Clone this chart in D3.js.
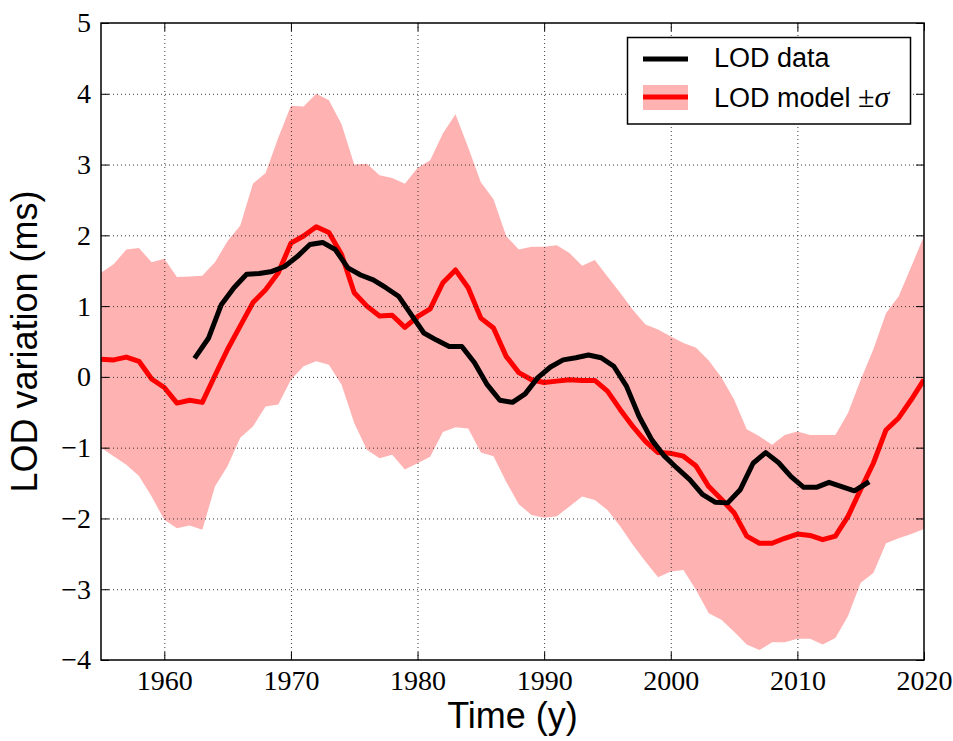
<!DOCTYPE html>
<html>
<head>
<meta charset="utf-8">
<script src="https://cdn.jsdelivr.net/npm/d3@7"></script>
<style>
  html, body { margin: 0; padding: 0; background: #fff; }
  svg { display: block; }
</style>
</head>
<body>
<svg id="chart" width="953" height="741"></svg>
<script>
// ---------- data ----------
const modelYears = [1955,1956,1957,1958,1959,1960,1961,1962,1963,1964,1965,1966,1967,1968,1969,
  1970,1971,1972,1973,1974,1975,1976,1977,1978,1979,1980,1981,1982,1983,1984,1985,1986,1987,1988,1989,
  1990,1991,1992,1993,1994,1995,1996,1997,1998,1999,2000,2001,2002,2003,2004,2005,2006,2007,2008,2009,
  2010,2011,2012,2013,2014,2015,2016,2017,2018,2019,2020];
const modelValues = [0.25,0.24,0.28,0.22,-0.03,-0.15,-0.37,-0.33,-0.36,0.02,0.39,0.72,1.05,1.23,1.47,
  1.89,1.99,2.12,2.04,1.73,1.19,1.00,0.86,0.87,0.70,0.85,0.96,1.33,1.51,1.26,0.83,0.69,0.29,0.06,-0.04,
  -0.08,-0.06,-0.04,-0.05,-0.05,-0.20,-0.46,-0.70,-0.91,-1.07,-1.08,-1.12,-1.26,-1.55,-1.73,-1.92,-2.25,-2.35,-2.35,-2.28,
  -2.22,-2.24,-2.30,-2.25,-1.97,-1.59,-1.22,-0.75,-0.58,-0.32,-0.04];
const modelUpper = [1.47,1.59,1.80,1.82,1.62,1.67,1.41,1.42,1.43,1.62,1.92,2.14,2.73,2.88,3.38,
  3.83,3.82,4.00,3.91,3.57,3.00,3.01,2.85,2.81,2.73,2.95,3.06,3.44,3.71,3.24,2.75,2.51,1.99,1.80,1.84,
  1.84,1.86,1.75,1.57,1.65,1.42,1.19,0.95,0.74,0.67,0.57,0.48,0.41,0.23,-0.01,-0.32,-0.74,-0.84,-0.96,-0.82,
  -0.77,-0.82,-0.82,-0.82,-0.51,-0.04,0.39,0.90,1.14,1.56,1.99];
const modelLower = [-1.00,-1.12,-1.24,-1.40,-1.69,-2.02,-2.14,-2.10,-2.16,-1.55,-1.26,-0.86,-0.70,-0.42,-0.39,
  -0.04,0.15,0.22,0.17,-0.11,-0.65,-1.03,-1.15,-1.10,-1.31,-1.22,-1.13,-0.78,-0.71,-0.73,-1.07,-1.12,-1.48,-1.80,-1.95,
  -1.99,-1.97,-1.83,-1.69,-1.74,-1.88,-2.11,-2.37,-2.61,-2.83,-2.75,-2.73,-3.01,-3.34,-3.43,-3.60,-3.78,-3.86,-3.75,-3.75,
  -3.70,-3.70,-3.78,-3.69,-3.38,-2.91,-2.77,-2.35,-2.28,-2.22,-2.15];

const dataYears = [1962.5,1963.5,1964.5,1965.5,1966.5,1967.5,1968.5,1969.5,1970.5,1971.5,1972.5,1973.5,
  1974.5,1975.5,1976.5,1977.5,1978.5,1979.5,1980.5,1981.5,1982.5,1983.5,1984.5,1985.5,1986.5,1987.5,
  1988.5,1989.5,1990.5,1991.5,1992.5,1993.5,1994.5,1995.5,1996.5,1997.5,1998.5,1999.5,2000.5,2001.5,
  2002.5,2003.5,2004.5,2005.5,2006.5,2007.5,2008.5,2009.5,2010.5,2011.5,2012.5,2013.5,2014.5,2015.5];
const dataValues = [0.29,0.55,1.02,1.26,1.45,1.46,1.49,1.56,1.70,1.87,1.90,1.80,
  1.54,1.44,1.37,1.26,1.14,0.88,0.62,0.52,0.43,0.43,0.20,-0.11,-0.33,-0.36,
  -0.24,-0.01,0.14,0.24,0.27,0.31,0.27,0.15,-0.13,-0.56,-0.89,-1.12,-1.29,-1.45,
  -1.66,-1.77,-1.78,-1.59,-1.22,-1.07,-1.21,-1.41,-1.56,-1.56,-1.49,-1.55,-1.61,-1.50];

const xTicks = [1960,1970,1980,1990,2000,2010,2020];
const yTicks = [-4,-3,-2,-1,0,1,2,3,4,5];
const xDomain = [1955, 2020];
const yDomain = [-4, 5];
const legendLabels = ["LOD data", "LOD model "];
const xLabel = "Time (y)";
const yLabel = "LOD variation (ms)";

// ---------- layout ----------
const svg = d3.select("#chart");
const L = 101, R = 924, T = 23, B = 660;
const x = d3.scaleLinear().domain(xDomain).range([L, R]);
const y = d3.scaleLinear().domain(yDomain).range([B, T]);

const band = "rgb(255,178,178)";
const red = "#ff0000";

svg.append("defs").append("clipPath").attr("id", "clip")
  .append("rect").attr("x", L).attr("y", T).attr("width", R - L).attr("height", B - T);

const plot = svg.append("g").attr("clip-path", "url(#clip)");

// band
const modelRows = modelYears.map((yr, i) => ({yr, v: modelValues[i], lo: modelLower[i], hi: modelUpper[i]}));
plot.append("path")
  .datum(modelRows)
  .attr("fill", band)
  .attr("d", d3.area().x(d => x(d.yr)).y0(d => y(d.lo)).y1(d => y(d.hi)));

// grid
const grid = svg.append("g").attr("stroke", "#222").attr("stroke-width", 0.9).attr("stroke-dasharray", "1,3");
grid.selectAll("line.gx").data(xTicks.filter(t => t > xDomain[0] && t < xDomain[1])).join("line")
  .attr("x1", d => x(d) + 0.5).attr("x2", d => x(d) + 0.5).attr("y1", T).attr("y2", B);
grid.selectAll("line.gy").data(yTicks.filter(t => t > yDomain[0] && t < yDomain[1])).join("line")
  .attr("y1", d => y(d) + 0.5).attr("y2", d => y(d) + 0.5).attr("x1", L).attr("x2", R);

// model line
plot.append("path")
  .datum(modelRows)
  .attr("fill", "none").attr("stroke", red).attr("stroke-width", 5)
  .attr("stroke-linejoin", "round")
  .attr("d", d3.line().x(d => x(d.yr)).y(d => y(d.v)));

// data line
const dataRows = dataYears.map((yr, i) => ({yr, v: dataValues[i]}));
plot.append("path")
  .datum(dataRows)
  .attr("fill", "none").attr("stroke", "#000").attr("stroke-width", 5)
  .attr("stroke-linejoin", "round").attr("stroke-linecap", "square")
  .attr("d", d3.line().x(d => x(d.yr)).y(d => y(d.v)));

// axes
const tickFont = "'Liberation Serif', 'DejaVu Serif', serif";
function styleAxis(g) {
  g.select(".domain").remove();
  g.selectAll(".tick line").attr("stroke", "#000").attr("stroke-width", 1);
  g.selectAll(".tick text").attr("font-family", tickFont).attr("font-size", 28).attr("fill", "#000");
}
svg.append("g").attr("transform", `translate(0,${B})`)
  .call(d3.axisBottom(x).tickValues(xTicks).tickSize(-8).tickPadding(10).tickFormat(d3.format("d")))
  .call(styleAxis);
svg.append("g").attr("transform", `translate(0,${T})`)
  .call(d3.axisTop(x).tickValues(xTicks).tickSize(-8).tickFormat(""))
  .call(styleAxis);
svg.append("g").attr("transform", `translate(${L},0)`)
  .call(d3.axisLeft(y).tickValues(yTicks).tickSize(-8).tickPadding(10).tickFormat(d3.format("d")))
  .call(styleAxis);
svg.append("g").attr("transform", `translate(${R},0)`)
  .call(d3.axisRight(y).tickValues(yTicks).tickSize(-8).tickFormat(""))
  .call(styleAxis);

// frame
svg.append("rect").attr("x", L).attr("y", T).attr("width", R - L).attr("height", B - T)
  .attr("fill", "none").attr("stroke", "#000").attr("stroke-width", 1.5);

// axis labels
const sans = "'Liberation Sans', Arial, Helvetica, sans-serif";
svg.append("text").attr("x", (L + R) / 2).attr("y", 728)
  .attr("text-anchor", "middle").attr("font-family", sans).attr("font-size", 36)
  .text(xLabel);
svg.append("text").attr("transform", `translate(37,${(T + B) / 2}) rotate(-90)`)
  .attr("text-anchor", "middle").attr("font-family", sans).attr("font-size", 36)
  .text(yLabel);

// legend
const lg = svg.append("g");
lg.append("rect").attr("x", 627.5).attr("y", 37.5).attr("width", 283).attr("height", 86.5)
  .attr("fill", "#fff").attr("stroke", "#000").attr("stroke-width", 1.5);
lg.append("line").attr("x1", 643).attr("x2", 688).attr("y1", 59).attr("y2", 59)
  .attr("stroke", "#000").attr("stroke-width", 5);
lg.append("rect").attr("x", 643).attr("y", 85).attr("width", 45).attr("height", 25).attr("fill", band);
lg.append("line").attr("x1", 643).attr("x2", 688).attr("y1", 97).attr("y2", 97)
  .attr("stroke", red).attr("stroke-width", 5);
lg.append("text").attr("x", 714).attr("y", 67).attr("font-family", sans).attr("font-size", 27)
  .text(legendLabels[0]);
const t2 = lg.append("text").attr("x", 714).attr("y", 107).attr("font-family", sans).attr("font-size", 27);
t2.append("tspan").text(legendLabels[1]);
t2.append("tspan").attr("font-family", tickFont).attr("font-size", 30).text("±");
t2.append("tspan").attr("font-family", tickFont).attr("font-size", 30).attr("font-style", "italic").text("σ");
</script>
</body>
</html>
